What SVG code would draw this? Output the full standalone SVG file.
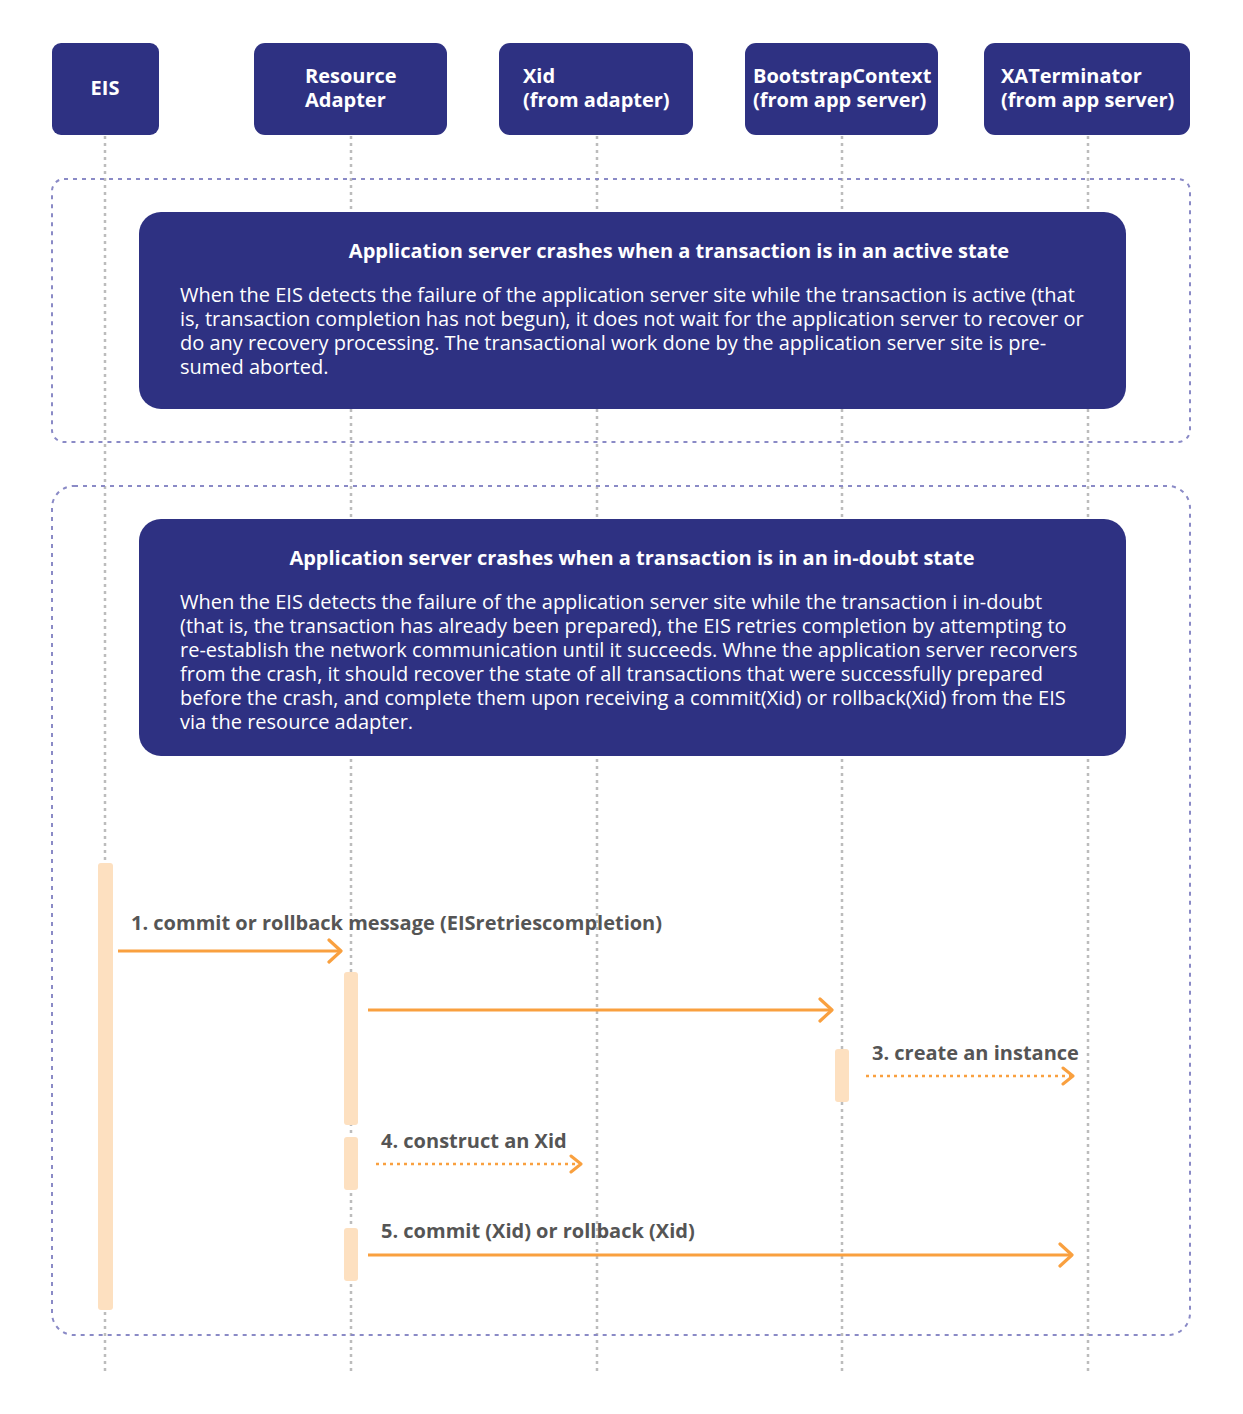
<svg xmlns="http://www.w3.org/2000/svg" width="1243" height="1414" viewBox="0 0 1243 1414">
<style>
.hdr{fill:#2e3182}
.ht{font-family:"Open Sans","Liberation Sans",sans-serif;font-weight:700;font-size:20px;fill:#fff}
.life{stroke:#bcbcbc;stroke-width:2.5;stroke-dasharray:3 4;fill:none}
.frame{fill:none;stroke:#8a8ac6;stroke-width:2;stroke-dasharray:4 5}
.note{fill:#2e3182}
.nt{font-family:"Open Sans","Liberation Sans",sans-serif;font-weight:700;font-size:20px;fill:#fff}
.nb{font-family:"Open Sans","Liberation Sans",sans-serif;font-weight:400;font-size:20px;fill:#fff}
.act{fill:#fde0c0}
.msg{stroke:#f9a03f;stroke-width:3;fill:none}
.dot{stroke:#f9a03f;stroke-width:2.5;fill:none;stroke-dasharray:3 4}
.lbl{font-family:"Open Sans","Liberation Sans",sans-serif;font-weight:700;font-size:20px;fill:#555}
</style>
<defs>
<marker id="ah" viewBox="0 0 16 26" refX="14" refY="13" markerWidth="16" markerHeight="26" markerUnits="userSpaceOnUse" orient="auto">
<path d="M2 2 L14 13 L2 24" fill="none" stroke="#f9a03f" stroke-width="3.2" stroke-linecap="round" stroke-linejoin="round"/>
</marker>
<marker id="ahs" viewBox="0 0 14 20" refX="12" refY="10" markerWidth="14" markerHeight="20" markerUnits="userSpaceOnUse" orient="auto">
<path d="M2 2 L12 10 L2 18" fill="none" stroke="#f9a03f" stroke-width="3" stroke-linecap="round" stroke-linejoin="round"/>
</marker>
</defs>
<rect width="1243" height="1414" fill="#fff"/>
<g id="lifelines">
<line class="life" x1="105" y1="136" x2="105" y2="1372"/>
<line class="life" x1="351" y1="136" x2="351" y2="1372"/>
<line class="life" x1="597" y1="136" x2="597" y2="1372"/>
<line class="life" x1="842" y1="136" x2="842" y2="1372"/>
<line class="life" x1="1088" y1="136" x2="1088" y2="1372"/>
</g>
<g id="frames">
<rect class="frame" x="52" y="179" width="1138" height="263" rx="12"/>
<rect class="frame" x="52" y="486" width="1138" height="849" rx="22"/>
</g>
<g id="eis"><rect class="hdr" x="52" y="43" width="107" height="92" rx="9"/><text class="ht" x="105" y="95" text-anchor="middle">EIS</text></g>
<g id="resource-adapter"><rect class="hdr" x="254" y="43" width="193" height="92" rx="11"/><text class="ht" x="305" y="83">Resource</text><text class="ht" x="305" y="107">Adapter</text></g>
<g id="xid"><rect class="hdr" x="499" y="43" width="194" height="92" rx="11"/><text class="ht" x="523" y="83">Xid</text><text class="ht" x="523" y="107">(from adapter)</text></g>
<g id="bootstrapcontext"><rect class="hdr" x="745" y="43" width="193" height="92" rx="11"/><text class="ht" x="753" y="83">BootstrapContext</text><text class="ht" x="753" y="107">(from app server)</text></g>
<g id="xaterminator"><rect class="hdr" x="984" y="43" width="206" height="92" rx="11"/><text class="ht" x="1001" y="83">XATerminator</text><text class="ht" x="1001" y="107">(from app server)</text></g>
<g id="note-active">
<rect class="note" x="139" y="212" width="987" height="197" rx="22"/>
<text class="nt" x="679" y="258" text-anchor="middle">Application server crashes when a transaction is in an active state</text>
<text class="nb" x="180" y="302">When the EIS detects the failure of the application server site while the transaction is active (that</text>
<text class="nb" x="180" y="326">is, transaction completion has not begun), it does not wait for the application server to recover or</text>
<text class="nb" x="180" y="350">do any recovery processing. The transactional work done by the application server site is pre-</text>
<text class="nb" x="180" y="374">sumed aborted.</text>
</g>
<g id="note-indoubt">
<rect class="note" x="139" y="519" width="987" height="237" rx="22"/>
<text class="nt" x="632" y="565" text-anchor="middle">Application server crashes when a transaction is in an in-doubt state</text>
<text class="nb" x="180" y="609">When the EIS detects the failure of the application server site while the transaction i in-doubt</text>
<text class="nb" x="180" y="633">(that is, the transaction has already been prepared), the EIS retries completion by attempting to</text>
<text class="nb" x="180" y="657">re-establish the network communication until it succeeds. Whne the application server recorvers</text>
<text class="nb" x="180" y="681">from the crash, it should recover the state of all transactions that were successfully prepared</text>
<text class="nb" x="180" y="705">before the crash, and complete them upon receiving a commit(Xid) or rollback(Xid) from the EIS</text>
<text class="nb" x="180" y="729">via the resource adapter.</text>
</g>
<g id="activations">
<rect class="act" x="98" y="863" width="15" height="447" rx="3"/>
<rect class="act" x="344" y="972" width="14" height="153" rx="3"/>
<rect class="act" x="344" y="1137" width="14" height="53" rx="3"/>
<rect class="act" x="344" y="1228" width="14" height="53" rx="3"/>
<rect class="act" x="835" y="1049" width="14" height="53" rx="3"/>
</g>
<g id="connectors">
<line class="msg" x1="118" y1="951" x2="341" y2="951" marker-end="url(#ah)"/>
<text class="lbl" x="131" y="930">1. commit or rollback message (EISretriescompletion)</text>
<line class="msg" x1="368" y1="1010" x2="832" y2="1010" marker-end="url(#ah)"/>
<line class="dot" x1="866" y1="1076" x2="1073" y2="1076" marker-end="url(#ahs)"/>
<text class="lbl" x="872" y="1060">3. create an instance</text>
<line class="dot" x1="376" y1="1164" x2="581" y2="1164" marker-end="url(#ahs)"/>
<text class="lbl" x="381" y="1148">4. construct an Xid</text>
<line class="msg" x1="368" y1="1255" x2="1072" y2="1255" marker-end="url(#ah)"/>
<text class="lbl" x="381" y="1238">5. commit (Xid) or rollback (Xid)</text>
</g>
</svg>
